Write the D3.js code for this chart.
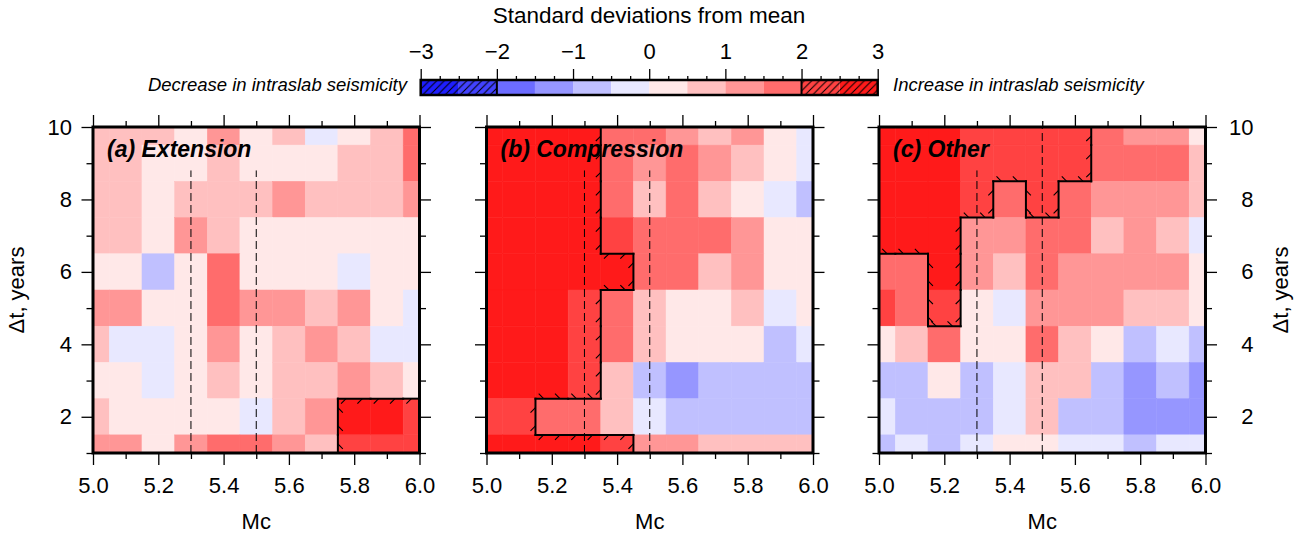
<!DOCTYPE html>
<html>
<head>
<meta charset="utf-8">
<script src="https://cdn.jsdelivr.net/npm/d3@7"></script>
<style>
  body { margin: 0; background: #fff; }
  svg text { font-family: "Liberation Sans", Arial, Helvetica, sans-serif; fill: #000; }
</style>
</head>
<body>
<script>
// grid centres: Mc along x, Δt along y (rows listed from top, Δt = 10, down to 1)
const mcValues = [5.0, 5.1, 5.2, 5.3, 5.4, 5.5, 5.6, 5.7, 5.8, 5.9, 6.0];
const dtValues = [10, 9, 8, 7, 6, 5, 4, 3, 2, 1];

const panelTitles = ["(a) Extension", "(b) Compression", "(c) Other"];

// standard deviations from mean
const extensionSd = [
  [0.7, 0.7, 0.7, 0.3, 1.2, 0.3, 0.7, -0.3, 0.3, 0.7, 1.7],
  [0.7, 0.7, 0.3, 0.3, 0.7, 0.3, 0.3, 0.3, 0.7, 0.7, 1.7],
  [0.7, 0.7, 0.3, 0.7, 0.7, 0.7, 1.2, 0.7, 0.7, 0.7, 1.2],
  [0.7, 0.7, 0.3, 1.2, 0.7, 0.3, 0.3, 0.3, 0.3, 0.3, 0.3],
  [0.3, 0.3, -0.7, 0.3, 1.7, 0.3, 0.3, 0.3, -0.3, 0.3, 0.3],
  [1.2, 1.2, 0.3, 0.3, 1.7, 1.2, 1.2, 0.7, 1.2, 0.3, -0.3],
  [0.7, -0.3, -0.3, 0.3, 1.2, 0.3, 0.7, 1.2, 0.7, -0.3, -0.3],
  [0.3, 0.3, -0.3, 0.3, 0.7, 0.3, 0.7, 0.7, 1.2, 0.7, 0.3],
  [0.7, 0.3, 0.3, 0.3, 0.3, -0.3, 0.7, 1.2, 2.7, 2.7, 2.2],
  [1.2, 1.2, 0.3, 1.2, 1.7, 1.7, 1.2, 0.7, 2.2, 2.2, 2.2]
];
const compressionSd = [
  [2.7, 2.7, 2.7, 2.7, 1.7, 1.7, 1.2, 0.7, 1.2, 0.3, -0.3],
  [2.7, 2.7, 2.7, 2.7, 1.7, 1.2, 1.7, 1.2, 0.7, 0.3, -0.3],
  [2.7, 2.7, 2.7, 2.7, 1.7, 0.7, 1.7, 0.7, 0.3, -0.3, -0.7],
  [2.7, 2.7, 2.7, 2.7, 2.2, 1.7, 1.7, 1.7, 1.2, 0.3, 0.3],
  [2.7, 2.7, 2.7, 2.7, 2.7, 1.7, 1.7, 0.7, 1.2, 0.3, 0.3],
  [2.7, 2.7, 2.7, 2.2, 1.7, 0.7, 0.3, 0.3, 0.7, -0.3, 0.3],
  [2.7, 2.7, 2.7, 2.2, 1.7, 0.7, 0.3, 0.3, 0.3, -0.7, -0.3],
  [2.7, 2.7, 2.7, 2.2, 0.7, -0.7, -1.2, -0.7, -0.7, -0.7, -0.7],
  [2.2, 2.2, 1.7, 1.7, 0.7, -0.3, -0.7, -0.7, -0.7, -0.7, -0.7],
  [2.7, 2.7, 2.7, 2.7, 2.2, 1.2, 1.2, 0.7, 0.7, 0.7, 0.7]
];
const otherSd = [
  [2.7, 2.7, 2.7, 2.2, 2.2, 2.2, 2.2, 1.7, 1.2, 1.2, 0.3],
  [2.7, 2.7, 2.7, 2.2, 2.2, 2.2, 2.2, 1.7, 1.7, 1.7, 0.7],
  [2.7, 2.7, 2.7, 2.2, 1.7, 2.2, 1.7, 1.2, 1.2, 1.2, 0.7],
  [2.7, 2.7, 2.7, 1.2, 1.2, 1.7, 1.7, 0.7, 1.2, 0.7, -0.3],
  [1.7, 1.7, 2.7, 1.2, 0.7, 1.7, 1.2, 1.2, 1.2, 1.2, 0.3],
  [2.2, 1.7, 2.2, 0.3, -0.3, 1.2, 1.2, 1.2, 0.7, 0.7, 0.3],
  [0.3, 0.7, 1.7, 0.3, 0.3, 1.7, 0.7, 0.3, -0.7, -0.3, -0.7],
  [-0.7, -0.7, 0.3, -0.7, -0.3, 0.7, 0.7, -0.7, -1.2, -0.7, -1.2],
  [-0.3, -0.7, -0.7, -0.7, -0.3, 0.7, -0.7, -0.7, -1.2, -1.2, -1.2],
  [-0.7, -0.3, -0.7, -0.3, 0.3, 0.3, -0.3, -0.3, -0.7, -0.3, -0.3]
];

// cells inside the significant (ticked) region
const extensionSig = [
  [0,0,0,0,0,0,0,0,0,0,0],
  [0,0,0,0,0,0,0,0,0,0,0],
  [0,0,0,0,0,0,0,0,0,0,0],
  [0,0,0,0,0,0,0,0,0,0,0],
  [0,0,0,0,0,0,0,0,0,0,0],
  [0,0,0,0,0,0,0,0,0,0,0],
  [0,0,0,0,0,0,0,0,0,0,0],
  [0,0,0,0,0,0,0,0,0,0,0],
  [0,0,0,0,0,0,0,0,1,1,1],
  [0,0,0,0,0,0,0,0,1,1,1]
];
const compressionSig = [
  [1,1,1,1,0,0,0,0,0,0,0],
  [1,1,1,1,0,0,0,0,0,0,0],
  [1,1,1,1,0,0,0,0,0,0,0],
  [1,1,1,1,0,0,0,0,0,0,0],
  [1,1,1,1,1,0,0,0,0,0,0],
  [1,1,1,1,0,0,0,0,0,0,0],
  [1,1,1,1,0,0,0,0,0,0,0],
  [1,1,1,1,0,0,0,0,0,0,0],
  [1,1,0,0,0,0,0,0,0,0,0],
  [1,1,1,1,1,0,0,0,0,0,0]
];
const otherSig = [
  [1,1,1,1,1,1,1,0,0,0,0],
  [1,1,1,1,1,1,1,0,0,0,0],
  [1,1,1,1,0,1,0,0,0,0,0],
  [1,1,1,0,0,0,0,0,0,0,0],
  [0,0,1,0,0,0,0,0,0,0,0],
  [0,0,1,0,0,0,0,0,0,0,0],
  [0,0,0,0,0,0,0,0,0,0,0],
  [0,0,0,0,0,0,0,0,0,0,0],
  [0,0,0,0,0,0,0,0,0,0,0],
  [0,0,0,0,0,0,0,0,0,0,0]
];

// dashed guide lines: Mc position and top Δt for each panel
const dashMc = [5.3, 5.5];
const dashTops = [[8.8, 8.8], [8.8, 8.8], [8.8, 10]];

// colour scale
const cbBreaks = [-3, -2.5, -2, -1.5, -1, -0.5, 0, 0.5, 1, 1.5, 2, 2.5, 3];
const cbColors = ["#1e1eff", "#4242ff", "#6c6cff", "#9696ff", "#c0c0ff", "#e8e8ff",
                  "#ffe8e8", "#ffc0c0", "#ff9696", "#ff6c6c", "#ff4242", "#ff1a1a"];
const cbTicks = [-3, -2, -1, 0, 1, 2, 3];
const xTicks = [5.0, 5.2, 5.4, 5.6, 5.8, 6.0];
const yTicks = [2, 4, 6, 8, 10];

const panels = [
  {sd: extensionSd, sig: extensionSig},
  {sd: compressionSd, sig: compressionSig},
  {sd: otherSd, sig: otherSig}
];

const svg = d3.select("body").append("svg")
  .attr("width", 1312)
  .attr("height", 537);

svg.append("rect").attr("width", "100%").attr("height", "100%").attr("fill", "white");

const color = d3.scaleThreshold().domain(cbBreaks.slice(1, -1)).range(cbColors);

const panelLeft = [93, 486.5, 879];
const plotTop = 127, plotBottom = 453, pw = 326.5, ph = plotBottom - plotTop;
const x = d3.scaleLinear().domain([5.0, 6.0]).range([0, pw]);
const y = d3.scaleLinear().domain([1, 10]).range([ph, 0]);
const cx = v => Math.max(5.0, Math.min(6.0, v));
const cy = v => Math.max(1, Math.min(10, v));
const minorX = [5.1, 5.3, 5.5, 5.7, 5.9];
const minorY = [1, 3, 5, 7, 9];

function styleAxis(g, size) {
  g.select(".domain").remove();
  g.selectAll(".tick line").attr("stroke", "#000").attr("stroke-width", 1.3);
  g.selectAll(".tick text").attr("font-size", size).attr("font-family", null);
  g.attr("font-family", null).attr("font-size", null);
}

panels.forEach((p, pi) => {
  const g = svg.append("g").attr("transform", `translate(${panelLeft[pi]},${plotTop})`);

  const cells = [];
  p.sd.forEach((row, r) => row.forEach((v, c) => cells.push({mc: mcValues[c], dt: dtValues[r], v: v})));

  g.selectAll("rect.cell")
    .data(cells)
    .join("rect")
    .attr("class", "cell")
    .attr("x", d => x(cx(d.mc - 0.05)))
    .attr("width", d => x(cx(d.mc + 0.05)) - x(cx(d.mc - 0.05)))
    .attr("y", d => y(cy(d.dt + 0.5)))
    .attr("height", d => y(cy(d.dt - 0.5)) - y(cy(d.dt + 0.5)))
    .attr("fill", d => color(d.v))
    .attr("stroke", d => color(d.v))
    .attr("stroke-width", 0.5);

  // dashed guides
  g.selectAll("line.dash")
    .data(dashMc.map((m, i) => ({mc: m, top: dashTops[pi][i]})))
    .join("line")
    .attr("class", "dash")
    .attr("x1", d => x(d.mc)).attr("x2", d => x(d.mc))
    .attr("y1", y(1)).attr("y2", d => y(d.top))
    .attr("stroke", "#000").attr("stroke-width", 1)
    .attr("stroke-dasharray", "8,4");

  // boundary of significant region
  const nR = p.sig.length, nC = p.sig[0].length;
  const edges = [];
  p.sig.forEach((row, r) => row.forEach((s, c) => {
    if (!s) return;
    const m = mcValues[c], t = dtValues[r];
    const x0 = cx(m - 0.05), x1 = cx(m + 0.05), y0 = cy(t - 0.5), y1 = cy(t + 0.5);
    if (r > 0 && !p.sig[r - 1][c]) edges.push({a: [x0, y1], b: [x1, y1], n: [0, 1]});
    if (r < nR - 1 && !p.sig[r + 1][c]) edges.push({a: [x0, y0], b: [x1, y0], n: [0, -1]});
    if (c > 0 && !p.sig[r][c - 1]) edges.push({a: [x0, y0], b: [x0, y1], n: [1, 0]});
    if (c < nC - 1 && !p.sig[r][c + 1]) edges.push({a: [x1, y0], b: [x1, y1], n: [-1, 0]});
  }));

  // ticks lean left on horizontal edges and downward on vertical ones, always inside
  const ticks = [];
  edges.forEach(e => {
    const ax = x(e.a[0]), ay = y(e.a[1]), bx = x(e.b[0]), by = y(e.b[1]);
    const len = Math.hypot(bx - ax, by - ay);
    const n = Math.max(1, Math.round(len / 16));
    const dx = e.n[0] !== 0 ? e.n[0] * Math.SQRT1_2 : -Math.SQRT1_2;
    const dy = e.n[1] !== 0 ? e.n[1] * Math.SQRT1_2 : Math.SQRT1_2;
    for (let k = 0; k < n; k++) {
      const f = (k + 0.5) / n;
      const px = ax + (bx - ax) * f, py = ay + (by - ay) * f;
      ticks.push({x1: px, y1: py, x2: px + dx * 7, y2: py + dy * 7});
    }
  });

  g.selectAll("line.sigtick")
    .data(ticks)
    .join("line")
    .attr("class", "sigtick")
    .attr("x1", d => d.x1).attr("y1", d => d.y1)
    .attr("x2", d => d.x2).attr("y2", d => d.y2)
    .attr("stroke", "#000").attr("stroke-width", 1.1);

  g.selectAll("line.sigedge")
    .data(edges)
    .join("line")
    .attr("class", "sigedge")
    .attr("x1", d => x(d.a[0])).attr("y1", d => y(d.a[1]))
    .attr("x2", d => x(d.b[0])).attr("y2", d => y(d.b[1]))
    .attr("stroke", "#000").attr("stroke-width", 2)
    .attr("stroke-linecap", "square");

  // axes
  const bx = g.append("g").attr("transform", `translate(0,${ph})`)
    .call(d3.axisBottom(x).tickValues(xTicks).tickSize(12).tickPadding(12).tickFormat(d3.format(".1f")));
  styleAxis(bx, 22);
  const bxm = g.append("g").attr("transform", `translate(0,${ph})`)
    .call(d3.axisBottom(x).tickValues(minorX).tickSize(6).tickFormat(""));
  styleAxis(bxm, 22);
  const tx = g.append("g").call(d3.axisTop(x).tickValues(xTicks).tickSize(12).tickFormat(""));
  styleAxis(tx, 22);
  const txm = g.append("g").call(d3.axisTop(x).tickValues(minorX).tickSize(6).tickFormat(""));
  styleAxis(txm, 22);

  const ly = g.append("g")
    .call(d3.axisLeft(y).tickValues(yTicks).tickSize(11.5).tickPadding(9.5)
      .tickFormat(pi === 0 ? d3.format("d") : ""));
  styleAxis(ly, 22);
  const lym = g.append("g").call(d3.axisLeft(y).tickValues(minorY).tickSize(6.5).tickFormat(""));
  styleAxis(lym, 22);
  const ry = g.append("g").attr("transform", `translate(${pw},0)`)
    .call(d3.axisRight(y).tickValues(yTicks).tickSize(11.5)
      .tickFormat(pi === 2 ? d3.format("d") : ""));
  styleAxis(ry, 22);
  ry.selectAll(".tick text").attr("text-anchor", "end").attr("x", 48);
  const rym = g.append("g").attr("transform", `translate(${pw},0)`)
    .call(d3.axisRight(y).tickValues(minorY).tickSize(6.5).tickFormat(""));
  styleAxis(rym, 22);

  // frame
  g.append("rect")
    .attr("width", pw).attr("height", ph)
    .attr("fill", "none").attr("stroke", "#000").attr("stroke-width", 3);

  g.append("text")
    .attr("x", 14).attr("y", 29.5)
    .attr("font-size", 23).attr("font-weight", "bold").attr("font-style", "italic")
    .text(panelTitles[pi]);

  g.append("text")
    .attr("x", pw / 2).attr("y", 402)
    .attr("text-anchor", "middle").attr("font-size", 22)
    .text("Mc");
});

svg.append("text")
  .attr("transform", `translate(24,${(plotTop + plotBottom) / 2}) rotate(-90)`)
  .attr("text-anchor", "middle").attr("font-size", 22)
  .text("Δt, years");
svg.append("text")
  .attr("transform", `translate(1288,${(plotTop + plotBottom) / 2}) rotate(-90)`)
  .attr("text-anchor", "middle").attr("font-size", 22)
  .text("Δt, years");

// colour bar
const cb = d3.scaleLinear().domain([-3, 3]).range([420.7, 877.7]);
const cbTop = 80, cbH = 15;

const defs = svg.append("defs");
defs.append("pattern")
  .attr("id", "hatch")
  .attr("patternUnits", "userSpaceOnUse")
  .attr("width", 7.5).attr("height", 7.5)
  .append("path")
  .attr("d", "M-1,1 L1,-1 M0,7.5 L7.5,0 M6.5,8.5 L8.5,6.5")
  .attr("stroke", "#000").attr("stroke-width", 1);

const segs = cbBreaks.slice(0, -1).map((b, i) => ({lo: b, hi: cbBreaks[i + 1], c: cbColors[i]}));
const cbg = svg.append("g");
cbg.selectAll("rect.seg")
  .data(segs)
  .join("rect")
  .attr("class", "seg")
  .attr("x", d => cb(d.lo)).attr("width", d => cb(d.hi) - cb(d.lo))
  .attr("y", cbTop).attr("height", cbH)
  .attr("fill", d => d.c);
cbg.selectAll("rect.hatch")
  .data(segs.filter(d => Math.abs(d.lo + d.hi) / 2 > 2))
  .join("rect")
  .attr("class", "hatch")
  .attr("x", d => cb(d.lo)).attr("width", d => cb(d.hi) - cb(d.lo))
  .attr("y", cbTop).attr("height", cbH)
  .attr("fill", "url(#hatch)");
cbg.selectAll("line.sep")
  .data([-2, 2])
  .join("line")
  .attr("class", "sep")
  .attr("x1", d => cb(d)).attr("x2", d => cb(d))
  .attr("y1", cbTop).attr("y2", cbTop + cbH)
  .attr("stroke", "#000").attr("stroke-width", 2);
cbg.append("rect")
  .attr("x", cb(-3)).attr("width", cb(3) - cb(-3))
  .attr("y", cbTop).attr("height", cbH)
  .attr("fill", "none").attr("stroke", "#000").attr("stroke-width", 2.5);

const cbAx = svg.append("g").attr("transform", `translate(0,${cbTop})`)
  .call(d3.axisTop(cb).tickValues(cbTicks).tickSize(11).tickPadding(9.7).tickFormat(d3.format("d")));
styleAxis(cbAx, 22);
const cbMinor = d3.range(-2.75, 3, 0.25).filter(v => Math.abs(v - Math.round(v)) > 0.01);
const cbAxm = svg.append("g").attr("transform", `translate(0,${cbTop})`)
  .call(d3.axisTop(cb).tickValues(cbMinor).tickSize(4).tickFormat(""));
styleAxis(cbAxm, 22);

svg.append("text")
  .attr("x", 649).attr("y", 23)
  .attr("text-anchor", "middle").attr("font-size", 22.5)
  .text("Standard deviations from mean");
svg.append("text")
  .attr("x", 407).attr("y", 91)
  .attr("text-anchor", "end").attr("font-size", 18.5).attr("font-style", "italic")
  .text("Decrease in intraslab seismicity");
svg.append("text")
  .attr("x", 893).attr("y", 91)
  .attr("font-size", 18.5).attr("font-style", "italic")
  .text("Increase in intraslab seismicity");
</script>
</body>
</html>
